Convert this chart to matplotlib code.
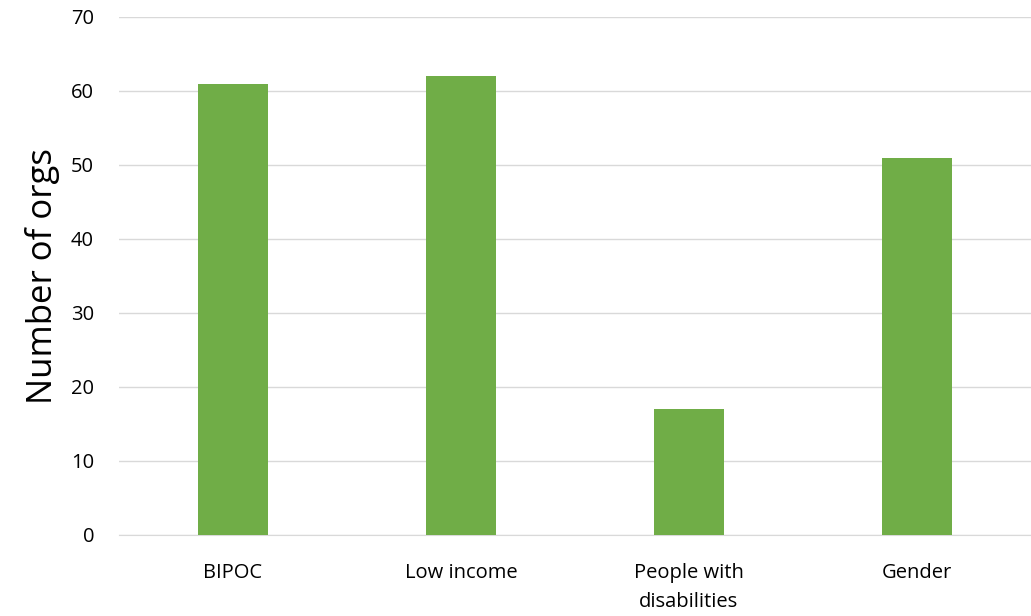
import matplotlib.pyplot as plt
import numpy as np

categories = ['BIPOC', 'Low income', 'People with\ndisabilities', 'Gender']
counts = [61, 62, 17, 51]
yticks = [0, 10, 20, 30, 40, 50, 60, 70]

plt.rcParams['font.family'] = ['Open Sans', 'DejaVu Sans']

fig = plt.figure(figsize=(10.31, 6.16), dpi=100)
ax = fig.add_axes([119/1031, 81/616, (1031-119)/1031, (535-17)/616])

x = np.arange(len(categories))
ax.bar(x, counts, width=0.31, color='#70AD47', zorder=3)

ax.set(xlim=(-0.5, 3.5), ylim=(0, 70), yticks=yticks, xticks=x)
ax.set_xticklabels(categories, fontsize=14.5, color='#000000', linespacing=1.6)
ax.set_yticklabels([str(v) for v in yticks], fontsize=14.5)
ax.tick_params(axis='both', length=0)
ax.tick_params(axis='x', pad=20)
ax.tick_params(axis='y', pad=18)
ax.grid(axis='y', color='#D9D9D9', linewidth=1, zorder=0)
for s in ['top', 'right', 'left']:
    ax.spines[s].set_visible(False)
ax.spines['bottom'].set_color('#D9D9D9')
ax.set_ylabel('Number of orgs', fontsize=25, labelpad=8)

fig.savefig('out.png', dpi=100)
